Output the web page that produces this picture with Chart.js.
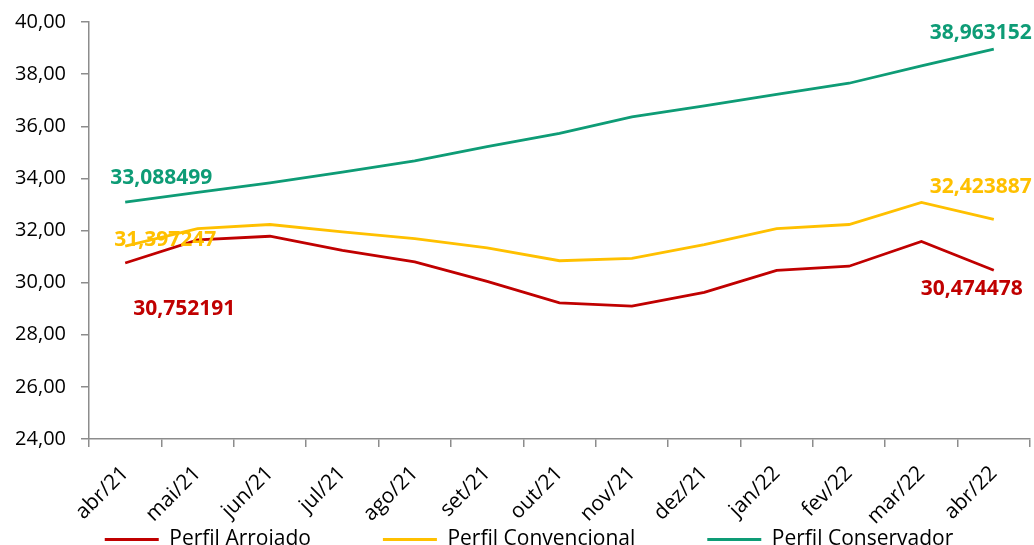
<!DOCTYPE html>
<html><head><meta charset="utf-8">
<script src="https://cdn.jsdelivr.net/npm/chart.js@4.4.1/dist/chart.umd.min.js"></script>
<style>html,body{margin:0;padding:0;background:#fff;}#wrap{width:1034px;height:545px;}</style>
</head><body><div id="wrap"><canvas id="c" width="1034" height="545"></canvas></div>
<script>
const categories = ['abr/21','mai/21','jun/21','jul/21','ago/21','set/21','out/21','nov/21','dez/21','jan/22','fev/22','mar/22','abr/22'];
const arrojado     = [30.752191, 31.64, 31.78, 31.24, 30.80, 30.05, 29.22, 29.10, 29.63, 30.47, 30.63, 31.58, 30.474478];
const convencional = [31.397247, 32.07, 32.23, 31.95, 31.69, 31.33, 30.84, 30.93, 31.46, 32.07, 32.23, 33.08, 32.423887];
const conservador  = [33.088499, 33.46, 33.83, 34.24, 34.67, 35.22, 35.73, 36.36, 36.78, 37.22, 37.65, 38.32, 38.963152];
const seriesNames  = ['Perfil Arrojado','Perfil Convencional','Perfil Conservador'];
const yMin = 24, yMax = 40, yStep = 2;

const RED = '#C00000', YEL = '#FFC000', GRN = '#0E9C76';
const AXIS = '#8C8C8C';
const FONT = "'Open Sans', 'Liberation Sans', sans-serif";

const fmt = (v, d) => v.toFixed(d).replace('.', ',');

const pointLabels = {
  id: 'pointLabels',
  afterDatasetsDraw(chart, args, opts) {
    const ctx = chart.ctx;
    ctx.save();
    ctx.font = 'bold 21px ' + FONT;
    ctx.textAlign = 'center';
    ctx.textBaseline = 'middle';
    opts.items.forEach(it => {
      const ds = chart.data.datasets[it.ds];
      const pt = chart.getDatasetMeta(it.ds).data[it.idx];
      ctx.fillStyle = it.color || ds.borderColor;
      ctx.fillText(fmt(ds.data[it.idx], 6), pt.x + it.dx, pt.y + it.dy);
    });
    ctx.restore();
  }
};

const legendShift = {
  id: 'legendShift',
  afterLayout(chart, args, opts) {
    const lg = chart.legend;
    if (lg) { lg.top = opts.top; lg.bottom = chart.height; lg.left = opts.left; }
  }
};

new Chart(document.getElementById('c'), {
  type: 'line',
  data: {
    labels: categories,
    datasets: [
      { label: seriesNames[0], data: arrojado, borderColor: RED, backgroundColor: RED },
      { label: seriesNames[1], data: convencional, borderColor: YEL, backgroundColor: YEL },
      { label: seriesNames[2], data: conservador, borderColor: GRN, backgroundColor: GRN }
    ]
  },
  plugins: [pointLabels, legendShift],
  options: {
    responsive: false,
    animation: false,
    devicePixelRatio: 1,
    layout: { padding: { left: 0, right: 4, top: 22, bottom: 0 } },
    elements: {
      line: { borderWidth: 2.8, tension: 0, fill: false },
      point: { radius: 0, hoverRadius: 0 }
    },
    scales: {
      x: {
        offset: true,
        grid: { display: true, drawOnChartArea: false, offset: true, tickLength: 8, color: AXIS, lineWidth: 1.5 },
        border: { display: true, color: AXIS, width: 1.5 },
        ticks: { minRotation: 45, maxRotation: 45, autoSkip: false, padding: 14, color: '#000', font: { family: FONT, size: 21 } },
        afterFit(s) { s.height = 90; }
      },
      y: {
        min: yMin, max: yMax,
        grid: { display: true, drawOnChartArea: false, tickLength: 8, color: AXIS, lineWidth: 1.5 },
        border: { display: true, color: AXIS, width: 1.5 },
        ticks: { stepSize: yStep, padding: 15, color: '#000', font: { family: FONT, size: 20 }, callback: v => fmt(v, 2) },
        afterFit(s) { s.width = 89; s.paddingTop = 0; s.paddingBottom = 0; }
      }
    },
    plugins: {
      tooltip: { enabled: false },
      legend: {
        position: 'bottom',
        align: 'center',
        maxHeight: 16,
        labels: {
          color: '#000',
          font: { family: FONT, size: 21 },
          boxWidth: 54, boxHeight: 3, padding: 72,
          generateLabels(chart) {
            return Chart.defaults.plugins.legend.labels.generateLabels(chart).map(l => Object.assign(l, { lineWidth: 0, fillStyle: l.strokeStyle }));
          }
        }
      },
      legendShift: { top: 457, left: 28 },
      pointLabels: {
        items: [
          { ds: 2, idx: 0, dx: 36, dy: -24 },
          { ds: 1, idx: 0, dx: 40, dy: -6 },
          { ds: 0, idx: 0, dx: 59, dy: 46 },
          { ds: 2, idx: 12, dx: -13, dy: -16 },
          { ds: 1, idx: 12, dx: -13, dy: -32 },
          { ds: 0, idx: 12, dx: -22, dy: 19 }
        ]
      }
    }
  }
});
</script></body></html>
